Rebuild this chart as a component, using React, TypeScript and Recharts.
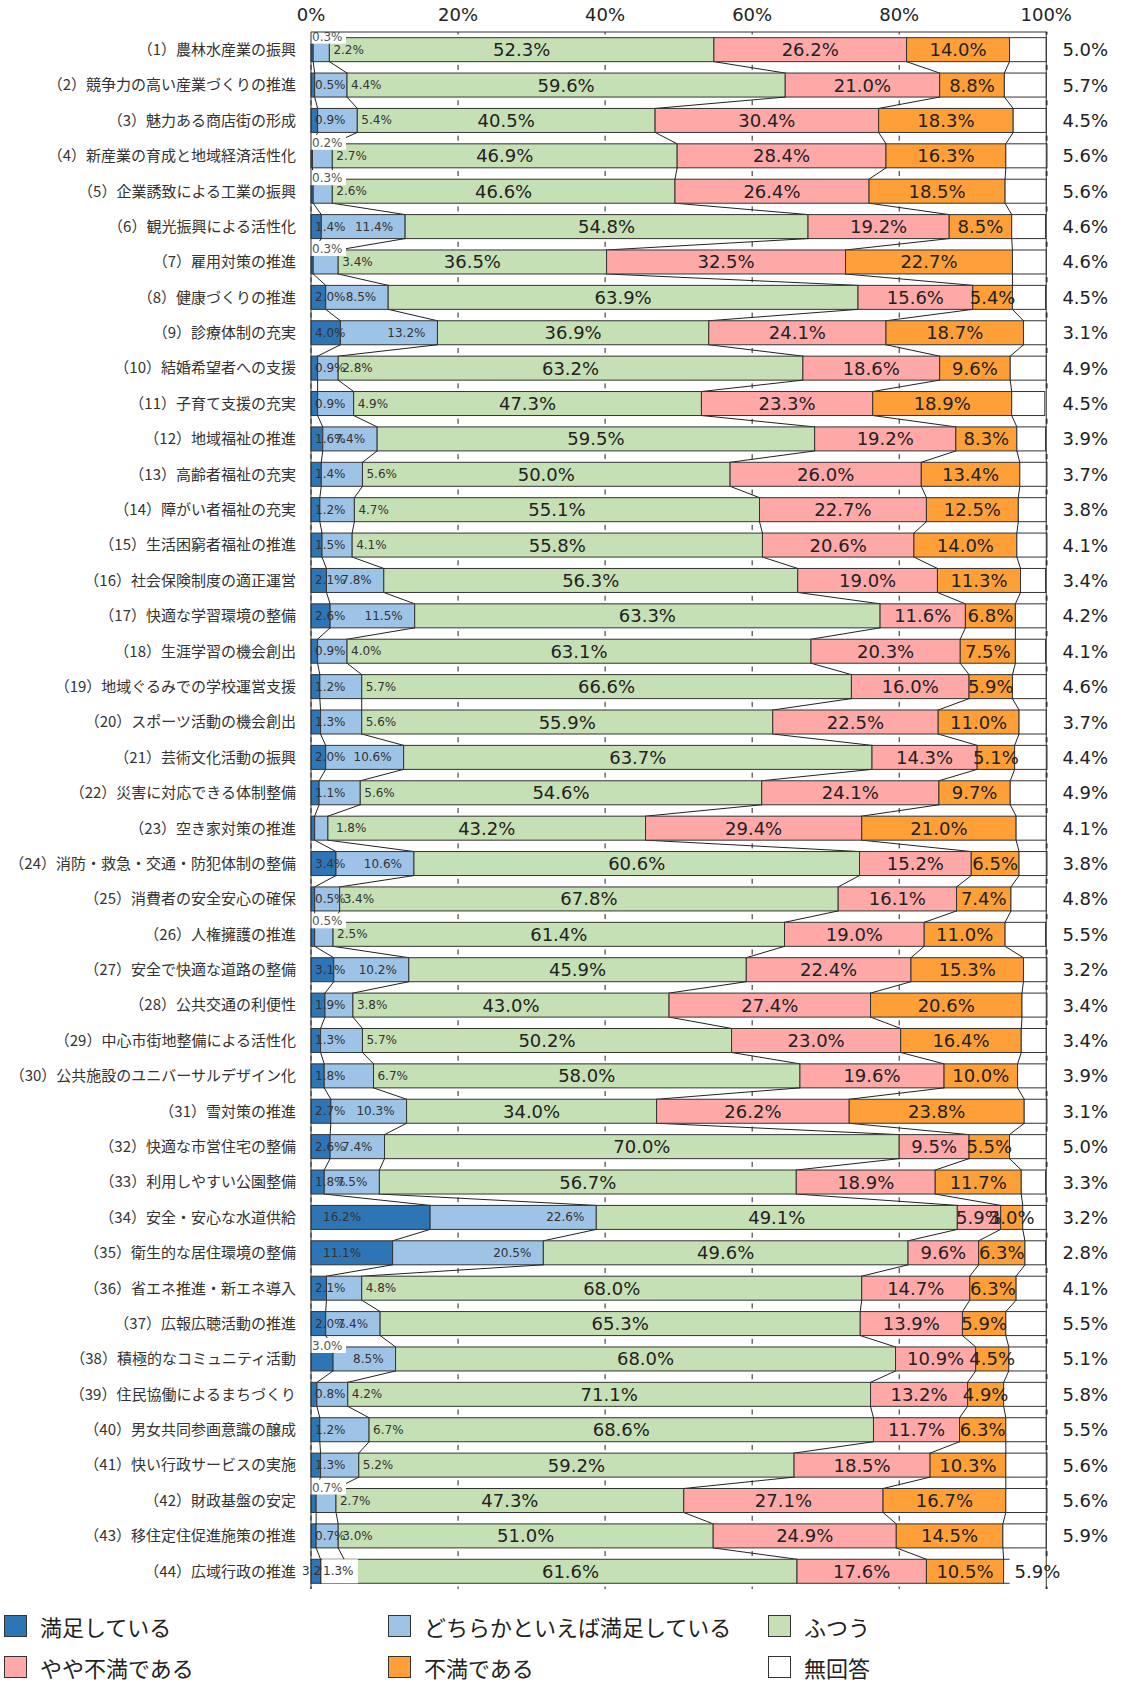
import React from 'react';
import { Bar, BarChart, CartesianGrid, ReferenceLine, XAxis, YAxis } from 'recharts';

const CATEGORIES = [
  '（1）農林水産業の振興',
  '（2）競争力の高い産業づくりの推進',
  '（3）魅力ある商店街の形成',
  '（4）新産業の育成と地域経済活性化',
  '（5）企業誘致による工業の振興',
  '（6）観光振興による活性化',
  '（7）雇用対策の推進',
  '（8）健康づくりの推進',
  '（9）診療体制の充実',
  '（10）結婚希望者への支援',
  '（11）子育て支援の充実',
  '（12）地域福祉の推進',
  '（13）高齢者福祉の充実',
  '（14）障がい者福祉の充実',
  '（15）生活困窮者福祉の推進',
  '（16）社会保険制度の適正運営',
  '（17）快適な学習環境の整備',
  '（18）生涯学習の機会創出',
  '（19）地域ぐるみでの学校運営支援',
  '（20）スポーツ活動の機会創出',
  '（21）芸術文化活動の振興',
  '（22）災害に対応できる体制整備',
  '（23）空き家対策の推進',
  '（24）消防・救急・交通・防犯体制の整備',
  '（25）消費者の安全安心の確保',
  '（26）人権擁護の推進',
  '（27）安全で快適な道路の整備',
  '（28）公共交通の利便性',
  '（29）中心市街地整備による活性化',
  '（30）公共施設のユニバーサルデザイン化',
  '（31）雪対策の推進',
  '（32）快適な市営住宅の整備',
  '（33）利用しやすい公園整備',
  '（34）安全・安心な水道供給',
  '（35）衛生的な居住環境の整備',
  '（36）省エネ推進・新エネ導入',
  '（37）広報広聴活動の推進',
  '（38）積極的なコミュニティ活動',
  '（39）住民協働によるまちづくり',
  '（40）男女共同参画意識の醸成',
  '（41）快い行政サービスの実施',
  '（42）財政基盤の安定',
  '（43）移住定住促進施策の推進',
  '（44）広域行政の推進',
];

const SERIES_NAMES = ['満足している', 'どちらかといえば満足している', 'ふつう', 'やや不満である', '不満である', '無回答'];

const SATISFIED = [0.3, 0.5, 0.9, 0.2, 0.3, 1.4, 0.3, 2.0, 4.0, 0.9, 0.9, 1.6, 1.4, 1.2, 1.5, 2.1, 2.6, 0.9, 1.2, 1.3, 2.0, 1.1, 0.5, 3.4, 0.5, 0.5, 3.1, 1.9, 1.3, 1.8, 2.7, 2.6, 1.8, 16.2, 11.1, 2.1, 2.0, 3.0, 0.8, 1.2, 1.3, 0.7, 0.7, 1.3];
const SOMEWHAT_SATISFIED = [2.2, 4.4, 5.4, 2.7, 2.6, 11.4, 3.4, 8.5, 13.2, 2.8, 4.9, 7.4, 5.6, 4.7, 4.1, 7.8, 11.5, 4.0, 5.7, 5.6, 10.6, 5.6, 1.8, 10.6, 3.4, 2.5, 10.2, 3.8, 5.7, 6.7, 10.3, 7.4, 7.5, 22.6, 20.5, 4.8, 7.4, 8.5, 4.2, 6.7, 5.2, 2.7, 3.0, 3.2];
const NEUTRAL = [52.3, 59.6, 40.5, 46.9, 46.6, 54.8, 36.5, 63.9, 36.9, 63.2, 47.3, 59.5, 50.0, 55.1, 55.8, 56.3, 63.3, 63.1, 66.6, 55.9, 63.7, 54.6, 43.2, 60.6, 67.8, 61.4, 45.9, 43.0, 50.2, 58.0, 34.0, 70.0, 56.7, 49.1, 49.6, 68.0, 65.3, 68.0, 71.1, 68.6, 59.2, 47.3, 51.0, 61.6];
const SOMEWHAT_DISSATISFIED = [26.2, 21.0, 30.4, 28.4, 26.4, 19.2, 32.5, 15.6, 24.1, 18.6, 23.3, 19.2, 26.0, 22.7, 20.6, 19.0, 11.6, 20.3, 16.0, 22.5, 14.3, 24.1, 29.4, 15.2, 16.1, 19.0, 22.4, 27.4, 23.0, 19.6, 26.2, 9.5, 18.9, 5.9, 9.6, 14.7, 13.9, 10.9, 13.2, 11.7, 18.5, 27.1, 24.9, 17.6];
const DISSATISFIED = [14.0, 8.8, 18.3, 16.3, 18.5, 8.5, 22.7, 5.4, 18.7, 9.6, 18.9, 8.3, 13.4, 12.5, 14.0, 11.3, 6.8, 7.5, 5.9, 11.0, 5.1, 9.7, 21.0, 6.5, 7.4, 11.0, 15.3, 20.6, 16.4, 10.0, 23.8, 5.5, 11.7, 3.0, 6.3, 6.3, 5.9, 4.5, 4.9, 6.3, 10.3, 16.7, 14.5, 10.5];
const NO_ANSWER = [5.0, 5.7, 4.5, 5.6, 5.6, 4.6, 4.6, 4.5, 3.1, 4.9, 4.5, 3.9, 3.7, 3.8, 4.1, 3.4, 4.2, 4.1, 4.6, 3.7, 4.4, 4.9, 4.1, 3.8, 4.8, 5.5, 3.2, 3.4, 3.4, 3.9, 3.1, 5.0, 3.3, 3.2, 2.8, 4.1, 5.5, 5.1, 5.8, 5.5, 5.6, 5.6, 5.9, 5.9];

const X_TICKS = [0, 20, 40, 60, 80, 100];

const SERIES = [SATISFIED, SOMEWHAT_SATISFIED, NEUTRAL, SOMEWHAT_DISSATISFIED, DISSATISFIED, NO_ANSWER];
const KEYS = ['s0', 's1', 's2', 's3', 's4', 's5'];
const FILLS = ['#2E75B6', '#9DC3E6', '#C5E0B4', '#FFA8A8', '#FF9F37', '#FFFFFF'];
const EDGE = '#333';
const NUM_FONT = "'DejaVu Sans', 'Noto Sans', sans-serif";
const CJK_FONT = "'Noto Sans CJK JP', 'Noto Sans', sans-serif";

const ROWS = CATEGORIES.length;
const CHART_W = 1126;
const CHART_H = 1600;
const TOP_AXIS_H = 32;
const MARGIN = { top: 0, right: 79, bottom: 11, left: 0 };
const PITCH = (CHART_H - TOP_AXIS_H - MARGIN.top - MARGIN.bottom) / ROWS;

// rows whose 満足 label sits above the bar on a white box
const ABOVE_ROWS = new Set([0, 3, 4, 6, 25, 37, 41]);
// rows where the 満足 label is not shown
const HIDDEN_ROWS = new Set([22]);

const data = CATEGORIES.map((name, i) => {
  const row: Record<string, any> = { name, idx: i };
  KEYS.forEach((k, s) => (row[k] = SERIES[s][i]));
  return row;
});

const cumAt = (i: number, s: number) => {
  let t = 0;
  for (let k = 0; k < s; k++) t += SERIES[k][i];
  return t;
};

const fmt = (v: number) => `${v.toFixed(1)}%`;

function rowLabels(i: number, x0: number, ppp: number, y: number, h: number) {
  const xs = (s: number) => x0 + cumAt(i, s) * ppp;
  const cy = y + h / 2;
  const out: React.ReactNode[] = [];
  const small = { fontSize: 12, fontFamily: NUM_FONT, fill: '#333' };
  const big = { fontSize: 18, fontFamily: NUM_FONT, fill: '#222' };

  for (const s of [2, 3, 4]) {
    out.push(
      <text key={`b${s}`} x={(xs(s) + xs(s + 1)) / 2} y={cy} textAnchor="middle" dominantBaseline="central" {...big}>
        {fmt(SERIES[s][i])}
      </text>
    );
  }

  const d = SATISFIED[i];
  const l = SOMEWHAT_SATISFIED[i];
  const lightEnd = xs(2);
  if (i === ROWS - 1) {
    out.push(
      <text key="l" x={x0 - 9} y={cy} textAnchor="start" dominantBaseline="central" {...small}>{fmt(l)}</text>,
      <rect key="db" x={x0 + 11} y={y} width={36} height={h} fill="#fff" />,
      <text key="d" x={x0 + 12} y={cy} textAnchor="start" dominantBaseline="central" {...small}>{fmt(d)}</text>
    );
  } else {
    if (ABOVE_ROWS.has(i)) {
      out.push(
        <rect key="db" x={x0 - 3} y={y - 9} width={38} height={15} fill="#fff" />,
        <text key="d" x={x0 + 1} y={y - 1} textAnchor="start" dominantBaseline="central" {...small} fill="#555">{fmt(d)}</text>
      );
    } else if (!HIDDEN_ROWS.has(i)) {
      out.push(
        <text key="d" x={x0 + (d >= 10 ? 12 : 4)} y={cy} textAnchor="start" dominantBaseline="central" {...small}>{fmt(d)}</text>
      );
    }
    if (l < 7) {
      out.push(
        <text key="l" x={lightEnd + (l < 2 ? 8 : 4)} y={cy} textAnchor="start" dominantBaseline="central" {...small}>{fmt(l)}</text>
      );
    } else {
      out.push(
        <text key="l" x={lightEnd - 12} y={cy} textAnchor="end" dominantBaseline="central" {...small}>{fmt(l)}</text>
      );
    }
  }

  const n = NO_ANSWER[i];
  if (i === ROWS - 1) {
    out.push(
      <rect key="nb" x={xs(5) + 6} y={y - 2} width={60} height={h + 4} fill="#fff" />,
      <text key="n" x={xs(5) + 11} y={cy} textAnchor="start" dominantBaseline="central" {...big}>{fmt(n)}</text>
    );
  } else {
    out.push(
      <text key="n" x={x0 + 100 * ppp + 39} y={cy} textAnchor="middle" dominantBaseline="central" {...big}>{fmt(n)}</text>
    );
  }
  return out;
}

const makeShape = (s: number) => (props: any) => {
  const { x, y, width, height, payload } = props;
  const i = payload.idx;
  const v = SERIES[s][i];
  const ppp = width / v;
  const x0 = x - cumAt(i, s) * ppp;
  return (
    <g>
      <rect x={x} y={y} width={width} height={height} fill={FILLS[s]} stroke={EDGE} strokeWidth={1} />
      {s < 5 && i < ROWS - 1 && (
        <line
          x1={x + width}
          y1={y + height}
          x2={x0 + cumAt(i + 1, s + 1) * ppp}
          y2={y + PITCH}
          stroke="#222"
          strokeWidth={1}
        />
      )}
      {s === 5 && rowLabels(i, x0, ppp, y, height)}
    </g>
  );
};

const LEGEND_COLS = [4, 388, 768];
const LEGEND_ROWS = [1615, 1656];

export default function App() {
  return (
    <div style={{ position: 'absolute', left: 0, top: 0, width: CHART_W, height: 1683, background: '#fff', overflow: 'hidden' }}>
      <BarChart
        width={CHART_W}
        height={CHART_H}
        data={data}
        layout="vertical"
        margin={MARGIN}
        barCategoryGap="16%"
      >
        <CartesianGrid
          xAxisId="t"
          yAxisId="l"
          horizontal={false}
          stroke="#222"
          strokeDasharray={`5 ${PITCH - 5}`}
          strokeDashoffset={2.5}
        />
        <XAxis
          xAxisId="t"
          orientation="top"
          type="number"
          domain={[0, 100]}
          ticks={X_TICKS}
          tickFormatter={(v) => `${v}%`}
          height={TOP_AXIS_H}
          tickLine={false}
          tickSize={6}
          tickMargin={5}
          axisLine={{ stroke: EDGE }}
          tick={{ fontSize: 18, fill: '#222', fontFamily: NUM_FONT }}
        />
        <XAxis
          xAxisId="b"
          orientation="bottom"
          type="number"
          domain={[0, 100]}
          ticks={X_TICKS}
          height={0}
          mirror
          tickSize={6}
          tick={false}
          tickLine={{ stroke: EDGE }}
          axisLine={{ stroke: EDGE }}
        />
        <YAxis
          yAxisId="l"
          type="category"
          dataKey="name"
          width={311}
          interval={0}
          tickLine={false}
          tickSize={6}
          tickMargin={9}
          axisLine={{ stroke: EDGE }}
          tick={{ fontSize: 15, fill: '#333', fontFamily: CJK_FONT }}
        />
        <ReferenceLine xAxisId="t" yAxisId="l" x={100} stroke={EDGE} />
        {KEYS.map((key, s) => (
          <Bar
            key={key}
            dataKey={key}
            name={SERIES_NAMES[s]}
            stackId="a"
            xAxisId="t"
            yAxisId="l"
            fill={FILLS[s]}
            isAnimationActive={false}
            shape={makeShape(s)}
          />
        ))}
      </BarChart>
      {SERIES_NAMES.map((label, s) => (
        <div
          key={label}
          style={{
            position: 'absolute',
            left: LEGEND_COLS[s % 3],
            top: LEGEND_ROWS[Math.floor(s / 3)],
            display: 'flex',
            alignItems: 'center',
            height: 22,
            lineHeight: '22px',
            fontFamily: CJK_FONT,
            fontSize: 22,
            color: '#222',
            whiteSpace: 'nowrap',
          }}
        >
          <span
            style={{
              display: 'inline-block',
              width: 21,
              height: 20,
              background: FILLS[s],
              border: `1px solid ${EDGE}`,
              marginRight: 13,
            }}
          />
          {label}
        </div>
      ))}
    </div>
  );
}
